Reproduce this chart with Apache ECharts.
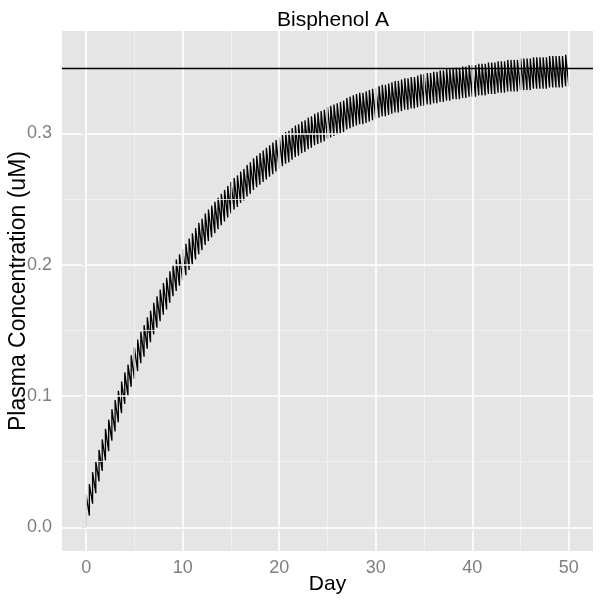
<!DOCTYPE html>
<html>
<head>
<meta charset="utf-8">
<script src="https://cdn.jsdelivr.net/npm/echarts@6/dist/echarts.min.js"></script>
<style>
  html, body { margin: 0; padding: 0; background: #fff; }
  #main { width: 602px; height: 604px; }
</style>
</head>
<body>
<div id="main"></div>
<script>
// dosing: 3 doses a day (every 8 h), days 0..50
var dosesPerDay = 3;

// concentration just before each dose (last value = day 50)
var troughs = [
  0.000, 0.009, 0.018, 0.026, 0.035, 0.043, 0.051, 0.058, 0.066, 0.073, 0.080, 0.087,
  0.094, 0.100, 0.107, 0.113, 0.119, 0.125, 0.130, 0.136, 0.141, 0.147, 0.152, 0.157,
  0.162, 0.166, 0.171, 0.176, 0.180, 0.184, 0.188, 0.192, 0.196, 0.200, 0.204, 0.208,
  0.211, 0.215, 0.218, 0.221, 0.224, 0.227, 0.230, 0.233, 0.236, 0.239, 0.242, 0.244,
  0.247, 0.249, 0.252, 0.254, 0.257, 0.259, 0.261, 0.263, 0.265, 0.267, 0.269, 0.271,
  0.273, 0.275, 0.277, 0.278, 0.280, 0.282, 0.283, 0.285, 0.286, 0.288, 0.289, 0.291,
  0.292, 0.293, 0.294, 0.296, 0.297, 0.298, 0.299, 0.300, 0.301, 0.303, 0.304, 0.305,
  0.306, 0.307, 0.307, 0.308, 0.309, 0.310, 0.311, 0.312, 0.313, 0.313, 0.314, 0.315,
  0.316, 0.316, 0.317, 0.318, 0.318, 0.319, 0.319, 0.320, 0.321, 0.321, 0.322, 0.322,
  0.323, 0.323, 0.324, 0.324, 0.325, 0.325, 0.326, 0.326, 0.326, 0.327, 0.327, 0.328,
  0.328, 0.328, 0.329, 0.329, 0.329, 0.330, 0.330, 0.330, 0.331, 0.331, 0.331, 0.332,
  0.332, 0.332, 0.332, 0.333, 0.333, 0.333, 0.333, 0.334, 0.334, 0.334, 0.334, 0.334,
  0.335, 0.335, 0.335, 0.335, 0.335, 0.336, 0.336
];

// concentration right after each dose
var peaks = [
  0.025, 0.033, 0.042, 0.050, 0.059, 0.067, 0.075, 0.082, 0.090, 0.097, 0.104, 0.111,
  0.118, 0.124, 0.131, 0.137, 0.143, 0.149, 0.154, 0.160, 0.165, 0.171, 0.176, 0.181,
  0.186, 0.190, 0.195, 0.200, 0.204, 0.208, 0.212, 0.216, 0.220, 0.224, 0.228, 0.232,
  0.235, 0.239, 0.242, 0.245, 0.248, 0.251, 0.254, 0.257, 0.260, 0.263, 0.266, 0.268,
  0.271, 0.273, 0.276, 0.278, 0.281, 0.283, 0.285, 0.287, 0.289, 0.291, 0.293, 0.295,
  0.297, 0.299, 0.301, 0.302, 0.304, 0.306, 0.307, 0.309, 0.310, 0.312, 0.313, 0.315,
  0.316, 0.317, 0.318, 0.320, 0.321, 0.322, 0.323, 0.324, 0.325, 0.327, 0.328, 0.329,
  0.330, 0.331, 0.331, 0.332, 0.333, 0.334, 0.335, 0.336, 0.337, 0.337, 0.338, 0.339,
  0.340, 0.340, 0.341, 0.342, 0.342, 0.343, 0.343, 0.344, 0.345, 0.345, 0.346, 0.346,
  0.347, 0.347, 0.348, 0.348, 0.349, 0.349, 0.350, 0.350, 0.350, 0.351, 0.351, 0.352,
  0.352, 0.352, 0.353, 0.353, 0.353, 0.354, 0.354, 0.354, 0.355, 0.355, 0.355, 0.356,
  0.356, 0.356, 0.356, 0.357, 0.357, 0.357, 0.357, 0.358, 0.358, 0.358, 0.358, 0.358,
  0.359, 0.359, 0.359, 0.359, 0.359, 0.360
];

var refLevel = 0.35;

var xTicks = [0, 10, 20, 30, 40, 50];
var xMinor = [5, 15, 25, 35, 45];
var yTicks = [0, 0.1, 0.2, 0.3];
var yMinor = [0.05, 0.15, 0.25, 0.35];

// sawtooth: vertical jump at each dose, decay until the next one
var curve = [];
for (var i = 0; i < peaks.length; i++) {
  var t = i / dosesPerDay;
  curve.push([t, troughs[i]]);
  curve.push([t, peaks[i]]);
}
curve.push([peaks.length / dosesPerDay, troughs[troughs.length - 1]]);

function gridLines(vals, key, color, width) {
  return vals.map(function (v) {
    var o = { lineStyle: { color: color, width: width, type: 'solid' } };
    o[key] = v;
    return o;
  });
}

var font = 'Liberation Sans, Arial, Helvetica, sans-serif';
var chart = echarts.init(document.getElementById('main'), null, { renderer: 'canvas' });

var option = {
  animation: false,
  backgroundColor: '#ffffff',
  title: {
    text: 'Bisphenol A',
    left: 328,
    textAlign: 'center',
    top: 5,
    textStyle: { fontFamily: font, fontSize: 21, fontWeight: 'normal', color: '#000' }
  },
  grid: {
    left: 62, right: 9, top: 31, bottom: 53,
    containLabel: false,
    outerBoundsMode: 'none',
    show: true, backgroundColor: '#e5e5e5', borderWidth: 0
  },
  xAxis: {
    type: 'value',
    min: -2.5, max: 52.5,
    name: 'Day',
    nameLocation: 'middle',
    nameGap: 23,
    nameMoveOverlap: false,
    nameTextStyle: { fontFamily: font, fontSize: 21, color: '#000' },
    axisLine: { show: false },
    splitLine: { show: false },
    axisTick: { show: true, customValues: xTicks, length: 4, lineStyle: { color: '#777', width: 1 } },
    axisLabel: {
      customValues: xTicks, margin: 8,
      fontFamily: font, fontSize: 18, color: '#7f7f7f'
    }
  },
  yAxis: {
    type: 'value',
    min: -0.018, max: 0.378,
    name: 'Plasma Concentration (uM)',
    nameLocation: 'middle',
    nameGap: 32,
    nameMoveOverlap: false,
    nameTextStyle: { fontFamily: font, fontSize: 23, color: '#000' },
    axisLine: { show: false },
    splitLine: { show: false },
    axisTick: { show: true, customValues: yTicks, length: 4, lineStyle: { color: '#777', width: 1 } },
    axisLabel: {
      customValues: yTicks, margin: 10,
      fontFamily: font, fontSize: 18, color: '#7f7f7f',
      formatter: function (v) { return v.toFixed(1); }
    }
  },
  series: [
    {
      type: 'line', data: [], silent: true, z: 1,
      markLine: {
        silent: true, symbol: 'none', animation: false,
        label: { show: false },
        data: gridLines(xMinor, 'xAxis', '#f2f2f2', 0.8)
          .concat(gridLines(yMinor, 'yAxis', '#f2f2f2', 0.8))
          .concat(gridLines(xTicks, 'xAxis', '#ffffff', 1.6))
          .concat(gridLines(yTicks, 'yAxis', '#ffffff', 1.6))
      }
    },
    {
      type: 'line',
      data: curve,
      showSymbol: false,
      symbol: 'none',
      z: 3,
      lineStyle: { color: '#000', width: 1.3 },
      markLine: {
        silent: true, symbol: 'none', animation: false,
        label: { show: false },
        data: [{ yAxis: refLevel, lineStyle: { color: '#000', width: 1.3, type: 'solid' } }]
      }
    }
  ]
};

chart.setOption(option);
</script>
</body>
</html>
